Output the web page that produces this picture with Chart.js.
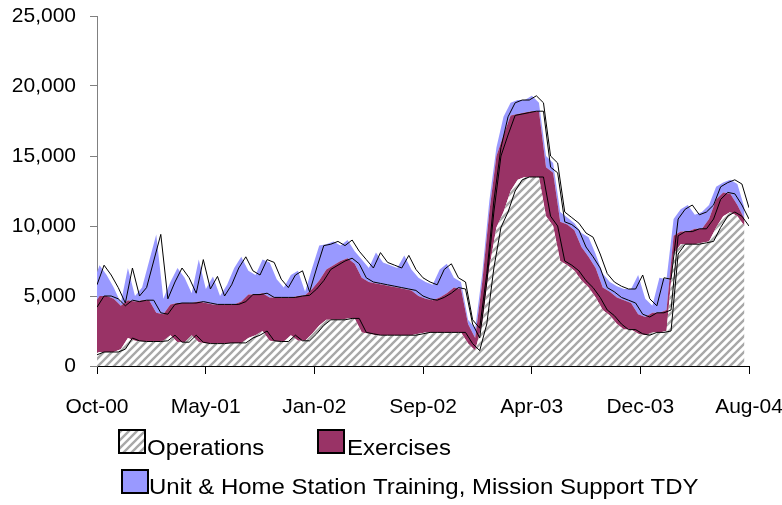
<!DOCTYPE html>
<html>
<head>
<meta charset="utf-8">
<title>TDY days</title>
<script src="https://cdn.jsdelivr.net/npm/chart.js@4.4.1/dist/chart.umd.min.js"></script>
<style>
  html, body { margin: 0; padding: 0; background: #fff; }
  #wrap { width: 782px; height: 505px; }
</style>
</head>
<body>
<div id="wrap"><canvas id="chart" width="782" height="505"></canvas></div>
<script>
/* global Chart */

// ─────────────────────────────────────────────
// DATA — one value every half month, Oct-00 .. Aug-04
// ─────────────────────────────────────────────
const STEP_MONTHS = 0.5;

const OPERATIONS = [
  800, 1000, 1000, 1000, 1200, 2000, 1800, 1750, 1750, 1750,
  1800, 2200, 1700, 1700, 2200, 1700, 1600, 1600, 1600, 1650,
  1650, 1650, 2000, 2200, 2500, 1800, 1750, 1750, 2200, 1800,
  1800, 2300, 2900, 3300, 3300, 3300, 3400, 3400, 2400, 2300,
  2200, 2200, 2200, 2200, 2200, 2200, 2300, 2400, 2400, 2400,
  2400, 2400, 2400, 1600, 1100, 3000, 7000, 9900, 11000, 12500,
  13300, 13500, 13500, 13500, 10700, 10000, 7500, 7200, 6800, 6100,
  5600, 4900, 4000, 3600, 3000, 2600, 2600, 2300, 2200, 2400,
  2400, 2500, 8000, 8700, 8700, 8700, 8800, 8900, 9900, 10700,
  11000, 10700, 10000
];

const EXERCISES = [
  3400, 4000, 4000, 3800, 3100, 2700, 2800, 2950, 2950, 2050,
  1900, 2200, 2800, 2800, 2300, 2900, 2900, 2800, 2800, 2750,
  2750, 2950, 3100, 2900, 2700, 3100, 3150, 3150, 2700, 3200,
  3250, 3200, 3200, 3600, 3900, 4200, 4300, 3900, 3900, 3700,
  3700, 3600, 3500, 3400, 3300, 3200, 2700, 2400, 2300, 2500,
  2800, 3200, 3100, 1400, 900, 3000, 4000, 5100, 5500, 5400,
  4700, 4600, 4700, 4700, 3500, 3800, 2800, 2900, 2900, 2400,
  2200, 2100, 1600, 1700, 1900, 2100, 1900, 1400, 1300, 1400,
  1400, 1500, 1300, 900, 900, 1100, 1000, 1600, 2000, 1700,
  1300, 800, 500
];

const TRAINING = [
  1600, 2200, 1500, 800, 200, 2300, 400, 900, 2800, 5600,
  1100, 1600, 2500, 1800, 700, 3000, 1000, 2000, 600, 1400,
  2600, 3200, 1700, 1400, 2400, 2500, 1300, 700, 1600, 1800,
  250, 1500, 2500, 1800, 1700, 1100, 1300, 900, 1300, 1000,
  2200, 1600, 1500, 1400, 2400, 1500, 1300, 1200, 1100, 2000,
  2100, 700, 500, 300, 700, 600, 800, 600, 1300, 900,
  1000, 900, 1100, 600, 800, 700, 700, 500, 500, 1000,
  1400, 1000, 1000, 700, 800, 800, 1000, 2800, 1300, 500,
  2500, 2200, 1200, 1600, 1900, 1000, 1200, 1000, 900, 700,
  1000, 1500, 800
];

const SERIES_NAMES = [
  'Operations',
  'Exercises',
  'Unit & Home Station Training, Mission Support TDY'
];

const TICK_MONTHS = [0, 7.67, 15.33, 23, 30.67, 38.33, 46];
const TICK_LABELS = ['Oct-00', 'May-01', 'Jan-02', 'Sep-02', 'Apr-03', 'Dec-03', 'Aug-04'];

// ─────────────────────────────────────────────
// STYLE
// ─────────────────────────────────────────────
const FONT_FAMILY = "'Liberation Sans', Arial, sans-serif";
const FILL_SHIFT  = 0.32;   // area fills sit a few px left of their outlines (as in the original)

function makeHatch() {
  const c = document.createElement('canvas');
  c.width = 8; c.height = 8;
  const g = c.getContext('2d');
  g.fillStyle = '#fff';
  g.fillRect(0, 0, 8, 8);
  g.strokeStyle = '#a8a8a8';
  g.lineWidth = 2.4;
  g.beginPath();
  g.moveTo(-2, 10); g.lineTo(10, -2);
  g.moveTo(-2, 2);  g.lineTo(2, -2);
  g.moveTo(6, 10);  g.lineTo(10, 6);
  g.stroke();
  return g.createPattern(c, 'repeat');
}

const ctx = document.getElementById('chart').getContext('2d');
const HATCH = makeHatch();
const COLORS = [HATCH, '#993366', '#9999ff'];
const VALUES = [OPERATIONS, EXERCISES, TRAINING];

function toPoints(values, shift) {
  return values.map((v, i) => ({ x: i * STEP_MONTHS - shift, y: v }));
}

// stacked area fills (drawn underneath)
const fillSets = VALUES.map((vals, i) => ({
  label: SERIES_NAMES[i],
  data: toPoints(vals, FILL_SHIFT),
  stack: 'area',
  order: 2,
  backgroundColor: COLORS[i],
  borderWidth: 0,
  pointRadius: 0,
  fill: i === 0 ? 'origin' : '-1',
  tension: 0
}));

// black outlines of the same stack (drawn on top)
const lineSets = VALUES.map((vals, i) => ({
  label: SERIES_NAMES[i] + ' outline',
  data: toPoints(vals, 0),
  stack: 'outline',
  order: 1,
  borderColor: '#000',
  borderWidth: 1,
  pointRadius: 0,
  fill: false,
  tension: 0
}));

// ─────────────────────────────────────────────
// LEGEND (Excel style, two rows, small box gap)
// ─────────────────────────────────────────────
const LEGEND_ITEMS = [
  { box: [119, 430], textX: 147, baseline: 455 },
  { box: [318, 430], textX: 347, baseline: 455 },
  { box: [122, 470], textX: 149, baseline: 494 }
];
const LEGEND_STRETCH = 1.09;

const sheetLegend = {
  id: 'sheetLegend',
  afterDraw(chart) {
    const c = chart.ctx;
    c.save();
    c.font = '22px ' + FONT_FAMILY;
    c.textBaseline = 'alphabetic';
    LEGEND_ITEMS.forEach((it, i) => {
      const [bx, by] = it.box;
      c.fillStyle = COLORS[i];
      c.fillRect(bx, by, 26, 23);
      c.strokeStyle = '#000';
      c.lineWidth = 2;
      c.strokeRect(bx, by, 26, 23);
      c.save();
      c.translate(it.textX, it.baseline);
      c.scale(LEGEND_STRETCH, 1);
      c.fillStyle = '#000';
      c.fillText(SERIES_NAMES[i], 0, 0);
      c.restore();
    });
    c.restore();
  }
};

// ─────────────────────────────────────────────
// CHART
// ─────────────────────────────────────────────
new Chart(ctx, {
  type: 'line',
  data: { datasets: [...fillSets, ...lineSets] },
  plugins: [sheetLegend],
  options: {
    responsive: false,
    animation: false,
    layout: { padding: { top: 16, right: 33, bottom: 79, left: 0 } },
    plugins: {
      legend: { display: false },
      tooltip: { enabled: false }
    },
    scales: {
      x: {
        type: 'linear',
        min: 0,
        max: 46,
        afterBuildTicks: s => { s.ticks = TICK_MONTHS.map(v => ({ value: v })); },
        afterFit: s => {
          s.height = 60;
          s.paddingLeft = 0;
          s.paddingRight = 0;
        },
        ticks: {
          autoSkip: false,
          maxRotation: 0,
          padding: 21,
          color: '#000',
          font: { family: FONT_FAMILY, size: 21 },
          callback: (v, i) => TICK_LABELS[i]
        },
        grid: { drawOnChartArea: false, drawTicks: true, tickLength: 8, color: '#000' },
        border: { color: '#000', width: 1 }
      },
      y: {
        stacked: true,
        min: 0,
        max: 25000,
        afterFit: s => {
          s.width = 97;
          s.paddingTop = 0;
          s.paddingBottom = 0;
        },
        ticks: {
          stepSize: 5000,
          padding: 14,
          color: '#000',
          font: { family: FONT_FAMILY, size: 21 },
          callback: v => v.toLocaleString('en-US')
        },
        grid: { drawOnChartArea: false, drawTicks: true, tickLength: 7, color: '#808080' },
        border: { color: '#808080', width: 1 }
      }
    }
  }
});
</script>
</body>
</html>
